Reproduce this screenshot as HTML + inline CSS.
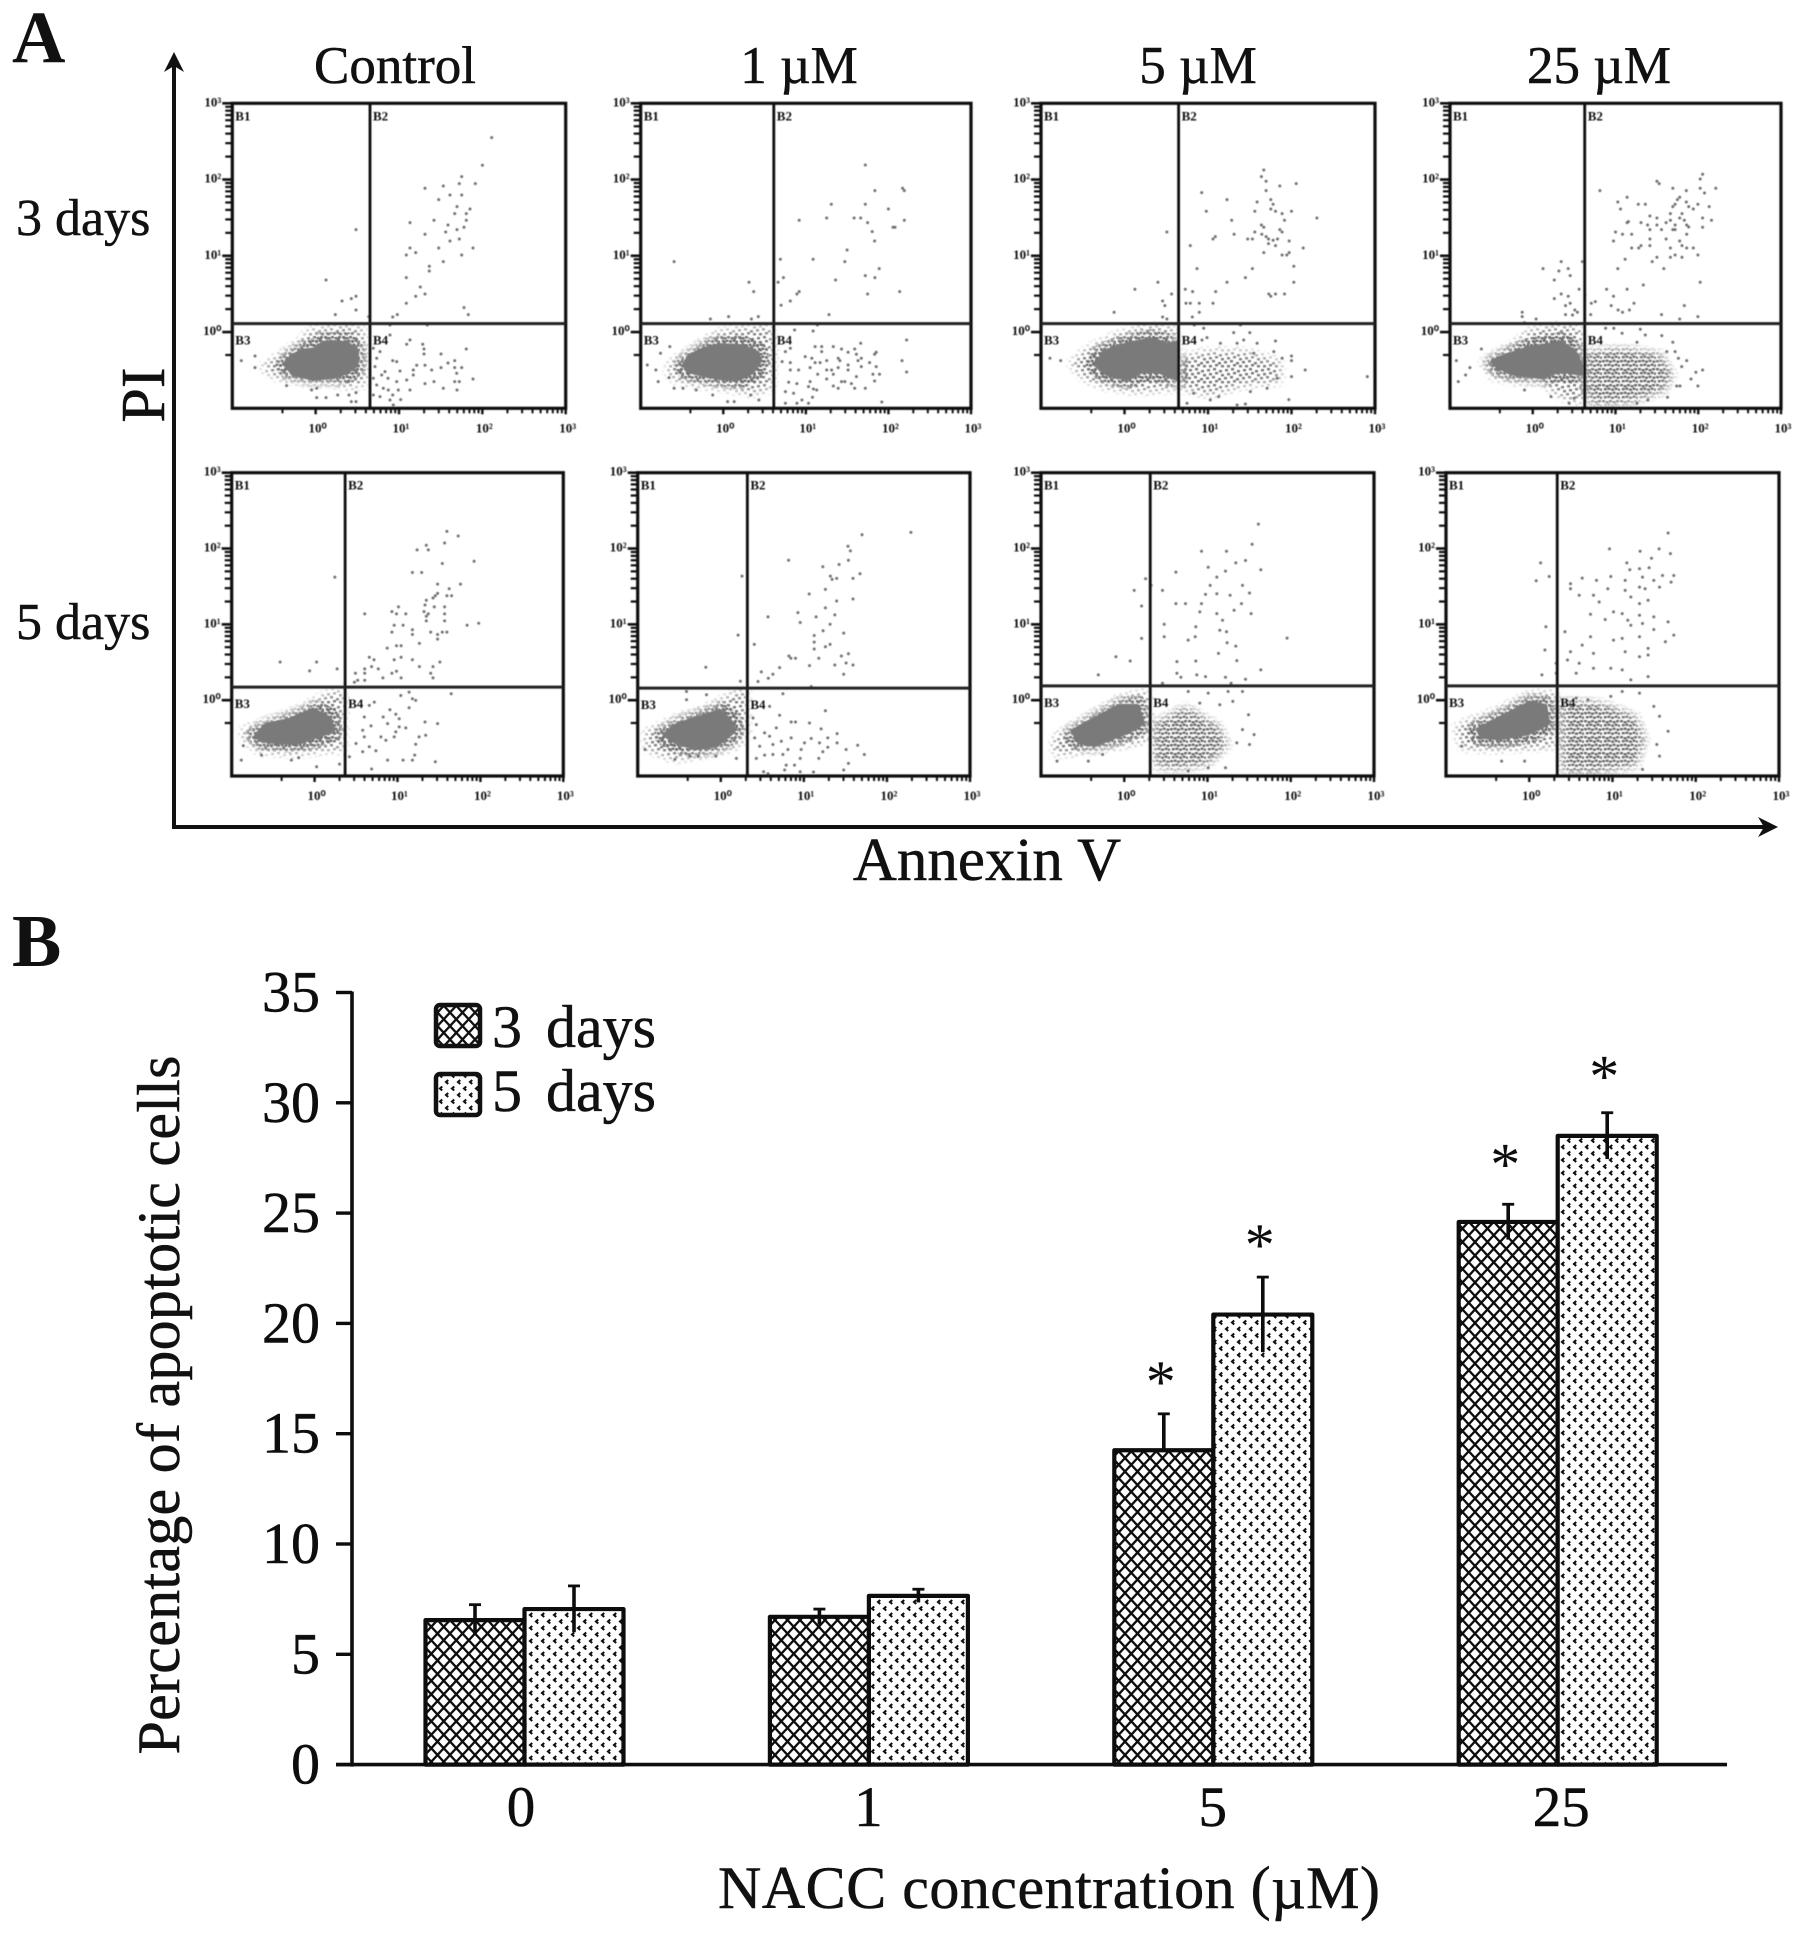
<!DOCTYPE html>
<html lang="en">
<head>
<meta charset="utf-8">
<title>NACC apoptosis figure</title>
<style>
html,body{margin:0;padding:0;background:#fff;}
svg{display:block;}
text{font-family:"Liberation Serif",serif;fill:#111;}
.heavy{stroke:#111;stroke-width:0.5px;}
</style>
</head>
<body>
<svg id="figure" xmlns="http://www.w3.org/2000/svg" width="1795" height="1935" viewBox="0 0 1795 1935">
  <defs id="defs">
    <filter id="soft" x="-5%" y="-5%" width="110%" height="110%"><feGaussianBlur stdDeviation="0.6"/></filter>
    <filter id="softer" x="-5%" y="-5%" width="110%" height="110%"><feGaussianBlur stdDeviation="0.35"/></filter>
    <filter id="feather" x="-30%" y="-30%" width="160%" height="160%"><feGaussianBlur stdDeviation="5"/></filter>
    <pattern id="speckle" width="18" height="16" patternUnits="userSpaceOnUse">
      <path fill="#747474" d="M1 1h3v2.4h-3zM7 0h3v2.4h-3zM13 2h3v2.4h-3zM3 5h3v2.4h-3zM9 4h3v2.4h-3zM15 6h3v2.4h-3zM0 9h3v2.4h-3zM6 8h3v2.4h-3zM12 10h3v2.4h-3zM3 13h3v2.4h-3zM9 12h3v2.4h-3zM15 13h3v2.4h-3z"/>
    </pattern>
    <pattern id="speckle-dense" width="18" height="16" patternUnits="userSpaceOnUse">
      <path fill="#6a6a6a" d="M0 0h3v2.4h-3zM3.6 1h3v2.4h-3zM7 0h3v2.4h-3zM10.6 1h3v2.4h-3zM14 0h3v2.4h-3zM1.8 4h3v2.4h-3zM5.4 3.6h3v2.4h-3zM9 4.5h3v2.4h-3zM12.6 3.6h3v2.4h-3zM16 4.5h2v2.4h-2zM0 8h3v2.4h-3zM3.6 7.6h3v2.4h-3zM7 8.5h3v2.4h-3zM10.6 7.6h3v2.4h-3zM14.4 8.5h3v2.4h-3zM1.8 12h3v2.4h-3zM5.4 11.6h3v2.4h-3zM9 12.5h3v2.4h-3zM12.6 11.6h3v2.4h-3zM16 12.5h2v2.4h-2z"/>
    </pattern>
    <pattern id="hatch-3d" width="12.5" height="13.5" patternUnits="userSpaceOnUse">
      <rect width="12.5" height="13.5" fill="#fff"/>
      <path d="M0 0L12.5 13.5M12.5 0L0 13.5" stroke="#111" stroke-width="2.3" fill="none"/>
    </pattern>
    <pattern id="dots-5d" width="12" height="13" patternUnits="userSpaceOnUse">
      <rect width="12" height="13" fill="#fff"/>
      <path d="M4.2 1L2 3L4.2 5" stroke="#111" stroke-width="2.1" fill="none"/>
      <path d="M10.2 7.5L8 9.5L10.2 11.5" stroke="#111" stroke-width="2.1" fill="none"/>
    </pattern>
  </defs>

  <text x="12" y="62" font-size="74" font-weight="bold">A</text>
  <text x="12" y="966" font-size="74" font-weight="bold">B</text>

  <text class="heavy" x="395" y="83" font-size="53" text-anchor="middle">Control</text>
  <text class="heavy" x="799" y="83" font-size="53" text-anchor="middle">1 µM</text>
  <text class="heavy" x="1198" y="83" font-size="53" text-anchor="middle">5 µM</text>
  <text class="heavy" x="1599" y="83" font-size="53" text-anchor="middle">25 µM</text>
  <text class="heavy" x="16" y="235" font-size="52">3 days</text>
  <text class="heavy" x="16" y="639" font-size="52">5 days</text>

  <g>
    <line x1="174" y1="62" x2="174" y2="829" stroke="#111" stroke-width="4"/>
    <polygon points="174,52 184,72 174,66 164,72" fill="#111"/>
  </g>
  <g>
    <line x1="172" y1="827" x2="1768" y2="827" stroke="#111" stroke-width="4"/>
    <polygon points="1778,827 1758,837 1764,827 1758,817" fill="#111"/>
  </g>
  <text class="heavy" transform="translate(164 395) rotate(-90)" font-size="62" text-anchor="middle">PI</text>
  <text class="heavy" x="987" y="880" font-size="61" text-anchor="middle">Annexin V</text>

  <g id="flow-panels" filter="url(#soft)"></g>
  <g id="bar-chart" filter="url(#softer)"></g>

  <text class="heavy" transform="translate(179 1405) rotate(-90)" font-size="60" text-anchor="middle" textLength="699">Percentage of apoptotic cells</text>
  <text class="heavy" x="1049" y="1908" font-size="60" text-anchor="middle" textLength="662">NACC concentration (µM)</text>

  <g>
    <rect x="436" y="1005" width="44" height="41" rx="4" fill="url(#hatch-3d)" stroke="#111" stroke-width="4.5"/>
    <text class="heavy" x="492" y="1047" font-size="60" style="word-spacing:9px">3 days</text>
    <rect x="436" y="1074" width="44" height="41" rx="4" fill="url(#dots-5d)" stroke="#111" stroke-width="4.5"/>
    <text class="heavy" x="492" y="1111" font-size="60" style="word-spacing:9px">5 days</text>
  </g>
</svg>

<script>
/* ---------- bar chart data (panel B) ---------- */
const concentrations = ['0', '1', '5', '25'];
const yTickValues = [0, 5, 10, 15, 20, 25, 30, 35];
const apoptosis3d = [6.55, 6.7, 14.25, 24.6];
const apoptosis5d = [7.05, 7.65, 20.4, 28.5];
const errUp3d = [0.7, 0.35, 1.65, 0.8];
const errDown3d = [0.7, 0.35, 0, 0.8];
const errUp5d = [1.05, 0.3, 1.7, 1.05];
const errDown5d = [1.05, 0.3, 1.7, 1.05];
const significant3d = [false, false, true, true];
const significant5d = [false, false, true, true];

/* ---------- flow cytometry data (panel A) : channels, x 0-1000, y 0-915 ---------- */
const decadeLabels = ['10⁰', '10¹', '10²', '10³'];
const decadeValues = [0, 1, 2, 3];
const minorMultipliers = [2, 3, 4, 5, 6, 7, 8, 9];
const quadrantNames = ['B1', 'B2', 'B3', 'B4'];
const gateAnnexin = [413, 403, 412, 407, 342, 330, 328, 334];
const gatePI = [254, 254, 254, 254, 268, 265, 272, 272];

const coreD3C0 = [[161,130],[178,155],[213,172],[248,175],[273,195],[343,195],[373,170],[371,130],[343,110],[303,95],[243,90],[183,105]];
const coreD3C1 = [[133,130],[148,155],[188,175],[238,188],[308,185],[353,165],[358,140],[338,110],[298,90],[238,92],[178,105],[143,115]];
const coreD3C5 = [[167,130],[187,165],[237,185],[277,195],[327,205],[377,190],[407,195],[407,90],[357,110],[307,115],[257,90],[197,105]];
const coreD3C25 = [[130,140],[165,155],[225,175],[275,185],[335,195],[375,170],[395,130],[395,105],[335,115],[275,95],[195,105],[145,125]];
const coreD5C0 = [[75,123],[105,153],[175,168],[245,198],[295,173],[305,138],[275,128],[205,103],[145,103],[95,108]];
const coreD5C1 = [[82,125],[122,155],[187,175],[247,195],[282,160],[287,135],[237,95],[177,85],[112,105]];
const coreD5C5 = [[96,135],[160,170],[237,210],[288,210],[305,160],[262,135],[160,95],[117,105]];
const coreD5C25 = [[98,140],[176,180],[253,220],[297,210],[305,160],[245,130],[159,115],[107,120]];

const haloD3C0 = [[88,125],[143,160],[203,200],[233,235],[333,245],[393,240],[403,140],[398,70],[343,65],[303,75],[233,75],[143,90],[98,110]];
const haloD3C1 = [[93,140],[158,180],[228,225],[308,240],[398,245],[403,170],[398,60],[338,45],[258,60],[168,70],[103,85],[78,115]];
const haloD3C5 = [[87,135],[142,180],[237,225],[327,245],[402,240],[407,60],[287,50],[187,65],[127,90]];
const haloD3C25 = [[95,140],[195,195],[245,235],[335,248],[400,240],[400,15],[335,35],[275,80],[195,80],[125,95]];
const haloD5C0 = [[30,138],[95,163],[205,203],[290,248],[340,258],[340,78],[285,78],[205,68],[85,73],[35,113]];
const haloD5C1 = [[22,130],[117,175],[217,210],[292,250],[329,265],[329,115],[287,85],[217,65],[112,50],[27,80]];
const haloD5C5 = [[39,115],[91,150],[237,235],[326,255],[326,110],[262,95],[142,75],[39,65]];
const haloD5C25 = [[29,150],[159,200],[245,245],[331,250],[331,90],[245,85],[141,80],[47,85]];

const earlyD3C5 = [[417,150],[497,170],[607,170],[717,140],[717,80],[607,70],[507,40],[417,60]];
const earlyD3C25 = [[410,170],[515,180],[635,165],[675,100],[645,50],[535,15],[425,10],[410,60]];
const earlyD5C5 = [[340,160],[435,210],[537,150],[562,90],[502,35],[400,20],[340,30]];
const earlyD5C25 = [[345,230],[469,220],[572,180],[598,110],[572,30],[452,10],[348,10]];

const eventsD3C0 = [[778,812],[750,729],[688,695],[729,674],[681,674],[633,667],[578,660],[653,640],[688,640],[619,626],[674,605],[713,598],[702,584],[667,584],[605,564],[702,564],[533,557],[647,550],[695,543],[674,536],[640,529],[578,522],[681,508],[653,502],[533,481],[619,481],[722,481],[550,467],[522,460],[688,460],[633,440],[591,426],[591,412],[522,392],[564,364],[578,343],[550,336],[522,315],[695,302],[708,281],[495,281],[481,274],[371,536],[281,385],[371,336],[357,329],[329,322],[371,295],[309,281],[409,275],[473,250],[585,250],[473,220],[533,205],[523,192],[571,192],[575,178],[702,178],[575,163],[626,163],[481,143],[493,140],[667,143],[647,136],[553,129],[543,115],[503,112],[578,129],[598,115],[626,122],[667,122],[688,122],[673,105],[543,100],[722,88],[605,80],[578,74],[523,85],[493,80],[467,90],[667,80],[681,80],[633,60],[533,55],[498,55],[674,55],[468,55],[453,60],[433,70],[423,90],[428,125],[433,150],[443,170],[423,180],[443,35],[481,40],[505,26],[423,40],[473,25],[483,10],[458,110],[448,100],[27,143],[68,157],[68,122],[253,32],[281,32],[316,40],[350,40],[357,20],[371,20],[371,47],[253,60],[238,55],[163,68],[348,80]];

const eventsD3C1 = [[680,730],[793,660],[798,653],[709,653],[577,612],[680,612],[750,598],[563,571],[646,571],[666,571],[480,564],[798,564],[687,557],[764,543],[770,543],[701,530],[708,502],[625,475],[522,447],[423,447],[618,440],[722,419],[680,398],[709,392],[590,385],[432,392],[416,378],[480,350],[473,343],[687,343],[784,350],[453,322],[425,309],[570,281],[101,440],[328,378],[342,350],[211,268],[266,275],[335,268],[356,275],[535,250],[466,235],[522,232],[805,205],[666,195],[528,185],[548,185],[583,185],[548,170],[608,178],[628,168],[648,178],[653,162],[713,168],[708,162],[498,155],[518,150],[598,150],[603,143],[658,143],[668,150],[693,137],[791,143],[563,143],[528,137],[543,137],[453,137],[513,122],[628,130],[628,115],[668,125],[713,125],[723,102],[703,102],[805,109],[453,115],[478,115],[536,102],[563,115],[578,115],[598,122],[563,88],[583,102],[653,95],[448,78],[473,74],[513,80],[608,80],[618,80],[638,74],[708,82],[583,67],[598,60],[648,60],[680,60],[508,65],[523,58],[533,55],[438,50],[463,45],[520,33],[473,15],[488,25],[730,19],[438,15],[508,15],[438,170],[453,180],[428,140],[20,130],[53,80],[88,185],[60,165],[46,115],[86,92],[101,60],[128,60],[168,55],[218,40],[263,20],[283,20],[333,40],[358,25]];

const eventsD3C5 = [[667,715],[660,695],[674,681],[764,674],[715,667],[674,653],[481,647],[557,626],[688,626],[647,619],[695,612],[688,598],[640,591],[702,591],[750,591],[722,584],[495,591],[826,571],[571,564],[729,564],[660,550],[667,543],[715,536],[722,529],[640,529],[661,522],[377,529],[578,522],[522,515],[515,508],[619,508],[633,508],[674,515],[681,508],[695,504],[708,508],[743,502],[681,494],[702,488],[785,481],[447,488],[667,467],[743,467],[736,460],[722,460],[757,426],[467,419],[633,419],[612,392],[557,378],[757,378],[350,378],[281,357],[432,357],[454,350],[523,350],[391,343],[682,343],[688,336],[702,343],[729,343],[364,322],[371,308],[434,315],[447,315],[474,315],[515,315],[474,288],[453,274],[219,288],[364,274],[377,268],[597,250],[487,240],[459,250],[577,227],[625,227],[497,212],[607,205],[647,195],[537,195],[587,195],[702,202],[482,205],[637,165],[697,170],[722,150],[750,157],[750,143],[791,115],[750,95],[977,95],[742,26],[587,10],[612,13],[437,15],[532,35],[507,25],[457,45],[627,50],[677,60],[707,90],[27,150],[59,143]];

const eventsD3C25 = [[763,702],[756,688],[625,681],[632,674],[803,660],[756,660],[673,660],[714,653],[769,646],[453,653],[535,633],[694,633],[507,619],[687,626],[569,612],[590,612],[714,619],[749,612],[680,612],[673,605],[783,605],[721,605],[515,598],[735,598],[666,584],[701,584],[763,571],[604,577],[625,571],[694,571],[708,564],[790,564],[666,564],[539,560],[535,557],[577,557],[597,550],[625,550],[653,557],[680,550],[715,550],[763,543],[604,536],[639,536],[673,536],[680,536],[721,544],[715,522],[500,529],[521,522],[549,522],[494,502],[653,508],[604,508],[694,502],[604,488],[577,488],[570,481],[549,481],[666,481],[701,488],[715,481],[735,481],[749,460],[701,453],[680,460],[666,453],[529,447],[625,453],[611,440],[507,419],[646,419],[756,378],[584,370],[535,357],[473,357],[494,336],[708,308],[556,315],[487,308],[542,295],[508,295],[521,288],[639,281],[694,268],[749,275],[439,320],[427,315],[425,281],[408,340],[400,440],[390,357],[336,440],[281,419],[329,412],[357,419],[363,398],[315,385],[336,343],[315,329],[357,336],[363,315],[349,308],[377,295],[385,288],[349,281],[218,288],[218,275],[260,268],[225,257],[370,280],[495,240],[520,225],[575,237],[590,220],[470,240],[565,198],[640,218],[673,198],[655,170],[680,170],[690,150],[715,143],[700,125],[743,108],[763,115],[728,88],[695,67],[685,67],[749,67],[657,33],[598,25],[565,15],[19,143],[95,178],[25,80],[60,122],[47,100],[225,55],[305,35],[360,15],[375,30]];

const eventsD5C0 = [[649,738],[683,724],[587,696],[642,703],[559,682],[593,682],[635,641],[731,648],[545,614],[573,614],[311,600],[621,579],[690,579],[656,565],[621,551],[614,544],[607,537],[649,544],[663,544],[587,530],[503,510],[583,516],[611,510],[642,510],[483,496],[497,489],[525,489],[401,489],[580,496],[593,489],[642,489],[587,482],[587,468],[642,468],[490,455],[517,455],[710,455],[745,461],[483,434],[545,441],[545,427],[600,434],[621,427],[635,434],[649,434],[621,413],[497,393],[511,393],[566,400],[469,386],[415,358],[429,351],[490,351],[511,358],[545,351],[628,344],[422,330],[442,323],[566,330],[607,330],[401,323],[373,310],[401,310],[483,310],[497,316],[600,310],[456,296],[511,296],[607,296],[401,289],[380,289],[370,283],[146,344],[256,344],[235,317],[318,323],[662,248],[535,253],[510,243],[545,233],[555,228],[535,206],[477,200],[415,213],[430,223],[495,186],[457,178],[505,173],[400,178],[470,158],[583,163],[621,158],[525,145],[505,148],[420,151],[395,138],[585,123],[565,118],[450,118],[490,118],[400,118],[555,96],[465,108],[435,76],[415,88],[375,98],[470,48],[517,48],[552,63],[614,43],[422,21],[355,58],[395,73],[545,48],[495,133],[29,48],[90,63],[180,48],[202,55],[256,28],[325,36],[35,91]];

const eventsD5C1 = [[822,735],[675,728],[633,693],[640,679],[454,651],[606,638],[634,651],[557,631],[669,610],[580,603],[585,593],[599,596],[648,596],[565,563],[516,549],[648,534],[599,528],[565,507],[482,493],[593,486],[537,480],[392,480],[489,463],[579,458],[558,438],[620,431],[531,424],[351,397],[531,404],[579,397],[565,390],[531,383],[455,362],[461,355],[475,355],[545,355],[613,362],[634,369],[627,341],[648,335],[593,335],[517,333],[427,327],[372,314],[407,307],[620,307],[393,295],[362,285],[309,286],[205,328],[302,425],[314,603],[522,270],[437,248],[397,210],[565,197],[427,183],[462,163],[475,163],[517,160],[552,142],[417,145],[600,128],[382,130],[397,120],[522,113],[572,115],[462,115],[432,105],[502,100],[547,100],[600,100],[662,93],[572,87],[627,80],[492,80],[407,95],[367,90],[452,80],[557,73],[682,65],[407,65],[382,63],[437,65],[489,53],[545,53],[357,53],[634,38],[447,33],[472,33],[620,18],[442,18],[379,13],[489,13],[529,12],[392,7],[357,155],[347,175],[352,115],[22,80],[147,255],[207,245],[147,230],[112,50],[157,60],[182,60],[235,60],[297,53]];

const eventsD5C5 = [[653,760],[634,699],[557,678],[482,678],[614,650],[585,643],[502,630],[660,622],[554,618],[405,615],[528,600],[605,575],[508,575],[314,595],[331,575],[280,560],[365,560],[494,548],[528,550],[568,545],[626,552],[405,520],[434,520],[302,513],[482,520],[602,520],[477,495],[528,490],[631,490],[580,500],[545,470],[465,450],[370,458],[537,440],[557,435],[739,416],[463,420],[302,415],[370,420],[442,410],[559,402],[585,392],[533,370],[225,360],[268,347],[408,345],[465,347],[588,348],[660,320],[172,305],[408,310],[468,305],[420,298],[494,300],[554,298],[614,292],[365,280],[571,280],[442,255],[502,250],[562,255],[605,255],[477,220],[537,215],[576,225],[623,185],[605,140],[640,125],[588,100],[626,95],[554,25],[442,15],[502,25],[48,45],[142,45],[185,65]];

const eventsD5C25 = [[667,733],[491,685],[583,678],[640,685],[674,671],[617,657],[284,643],[543,643],[610,628],[552,622],[581,625],[310,602],[409,597],[495,602],[684,605],[590,600],[650,605],[271,589],[374,580],[452,590],[538,590],[624,590],[676,585],[581,570],[641,570],[374,565],[486,565],[538,560],[598,565],[400,545],[443,545],[555,540],[607,530],[460,525],[581,520],[503,495],[529,490],[581,485],[624,480],[434,488],[478,472],[546,470],[590,460],[667,465],[555,455],[624,442],[684,425],[300,450],[357,435],[434,420],[503,410],[529,415],[581,420],[659,405],[297,380],[409,395],[538,375],[607,385],[443,370],[374,375],[581,360],[607,365],[331,340],[365,350],[400,340],[495,325],[529,320],[391,310],[443,325],[288,305],[331,310],[607,300],[555,290],[391,235],[426,230],[495,240],[529,255],[581,250],[624,210],[641,180],[667,135],[633,95],[641,60],[590,20],[167,45],[236,45],[47,90]];

/* ---------- layout (not data) ---------- */
const NS = 'http://www.w3.org/2000/svg';
const MAX_X = 1000, MAX_Y = 915;
const panelFrames = [
  {l:232.3,r:565.7,t:103.3,b:408.3},{l:640.7,r:971,t:103.3,b:408.3},{l:1041,r:1375,t:103.3,b:408.3},{l:1450,r:1781,t:103.3,b:408.3},
  {l:231.7,r:563.3,t:472.7,b:776},{l:637.7,r:970,t:472.7,b:776},{l:1041,r:1374,t:472.7,b:776},{l:1446,r:1779,t:472.7,b:776}
];
const panelNames = ['3d-control','3d-1um','3d-5um','3d-25um','5d-control','5d-1um','5d-5um','5d-25um'];
const panelCores = [coreD3C0,coreD3C1,coreD3C5,coreD3C25,coreD5C0,coreD5C1,coreD5C5,coreD5C25];
const panelHalos = [haloD3C0,haloD3C1,haloD3C5,haloD3C25,haloD5C0,haloD5C1,haloD5C5,haloD5C25];
const panelEarly = [null,null,earlyD3C5,earlyD3C25,null,null,earlyD5C5,earlyD5C25];
const panelEarlyFill = ['','','url(#speckle)','url(#speckle-dense)','','','url(#speckle-dense)','url(#speckle-dense)'];
const panelEvents = [eventsD3C0,eventsD3C1,eventsD3C5,eventsD3C25,eventsD5C0,eventsD5C1,eventsD5C5,eventsD5C25];

function make(tag, parent, attrs, txt) {
  const el = document.createElementNS(NS, tag);
  for (const k in attrs) el.setAttribute(k, attrs[k]);
  if (txt !== undefined) el.textContent = txt;
  parent.appendChild(el);
  return el;
}

/* ---------- draw flow panels ---------- */
const flowRoot = document.getElementById('flow-panels');
const defsRoot = document.getElementById('defs');
panelFrames.forEach(function (f, i) {
  const sx = function (c) { return f.l + c / MAX_X * (f.r - f.l); };
  const sy = function (c) { return f.b - c / MAX_Y * (f.b - f.t); };
  const decadeX = function (d) { return sx((d + 1) / 4 * MAX_X); };
  const decadeY = function (d) { return sy((d + 1) / 4 * MAX_Y); };
  const pts = function (arr) { return arr.map(function (p) { return sx(p[0]).toFixed(1) + ',' + sy(p[1]).toFixed(1); }).join(' '); };

  const mask = make('mask', defsRoot, {id: 'fade-' + i, maskUnits: 'userSpaceOnUse', x: f.l, y: f.t, width: f.r - f.l, height: f.b - f.t});
  make('polygon', mask, {points: pts(panelHalos[i]), fill: '#fff', filter: 'url(#feather)'});
  if (panelEarly[i]) make('polygon', mask, {points: pts(panelEarly[i]), fill: '#fff', filter: 'url(#feather)'});

  const g = make('g', flowRoot, {});
  
  

  const cloud = make('g', g, {mask: 'url(#fade-' + i + ')'});
  
  

  const halo = make('polygon', cloud, {points: pts(panelHalos[i]), fill: 'url(#speckle)', stroke: 'url(#speckle)', 'stroke-width': 12});
  
  

  if (panelEarly[i]) {
    const early = make('polygon', cloud, {points: pts(panelEarly[i]), fill: panelEarlyFill[i], stroke: panelEarlyFill[i], 'stroke-width': 12});
    
    
  }

  const ring = make('polygon', cloud, {points: pts(panelCores[i]), fill: 'none', stroke: 'url(#speckle-dense)', 'stroke-width': 22, 'stroke-linejoin': 'round'});
  
  

  const core = make('polygon', g, {points: pts(panelCores[i]), fill: '#7a7a7a', stroke: '#7a7a7a', 'stroke-width': 5, 'stroke-linejoin': 'round'});
  
  

  panelEvents[i].forEach(function (p) {
    const dot = make('circle', g, {cx: sx(p[0]).toFixed(1), cy: sy(p[1]).toFixed(1), r: 1.5, fill: '#707070'});
    
    
  });

  const box = make('rect', g, {x: f.l, y: f.t, width: f.r - f.l, height: f.b - f.t, fill: 'none', stroke: '#111', 'stroke-width': 3.2});
  
  

  const gv = make('line', g, {x1: sx(gateAnnexin[i]), x2: sx(gateAnnexin[i]), y1: f.t, y2: f.b, stroke: '#111', 'stroke-width': 2.8});
  
  

  const gh = make('line', g, {x1: f.l, x2: f.r, y1: sy(gatePI[i]), y2: sy(gatePI[i]), stroke: '#222', 'stroke-width': 3});
  
  

  decadeValues.forEach(function (d, di) {
    const ty = make('line', g, {x1: f.l - 10, x2: f.l, y1: decadeY(d), y2: decadeY(d), stroke: '#111', 'stroke-width': 2.6});
    
    
    const ly = make('text', g, {x: f.l - 11, y: decadeY(d) + 3, 'font-size': 13, 'font-weight': 'bold', 'text-anchor': 'end'}, decadeLabels[di]);
    
    
    const tx = make('line', g, {x1: decadeX(d), x2: decadeX(d), y1: f.b, y2: f.b + 6, stroke: '#111', 'stroke-width': 2.4});
    
    
    const lx = make('text', g, {x: decadeX(d) + 2, y: f.b + 24, 'font-size': 13, 'font-weight': 'bold', 'text-anchor': 'middle'}, decadeLabels[di]);
    
    
  });

  [-1, 0, 1, 2].forEach(function (d) {
    minorMultipliers.forEach(function (m) {
      const v = d + Math.log10(m);
      if (d >= 0 || m === 5) {
        const my = make('line', g, {x1: f.l - 7, x2: f.l, y1: decadeY(v), y2: decadeY(v), stroke: '#111', 'stroke-width': 2.2});
        
        
      }
      if (d >= 0 || m === 4) {
        const mx = make('line', g, {x1: decadeX(v), x2: decadeX(v), y1: f.b, y2: f.b + 5, stroke: '#111', 'stroke-width': 2});
        
        
      }
    });
  });

  const gateXpx = sx(gateAnnexin[i]), gateYpx = sy(gatePI[i]);
  const qx = [f.l + 3, gateXpx + 3, f.l + 3, gateXpx + 3];
  const qy = [f.t + 17, f.t + 17, gateYpx + 21, gateYpx + 21];
  quadrantNames.forEach(function (q, qi) {
    const t = make('text', g, {x: qx[qi], y: qy[qi], 'font-size': 13, 'font-weight': 'bold', fill: '#333'}, q);
    
    
  });
});

/* ---------- draw bar chart ---------- */
const barRoot = document.getElementById('bar-chart');
const plotLeft = 352, plotRight = 1727, plotBottom = 1764.6, plotTop = 992.5, yMaxValue = 35;
const firstGroup = 525, groupStep = 344.4, barWidth = 99;
const labelNudge = [-4, -1, -1, 3];
const starGap3d = [0, 0, 40, 48];
const starGap5d = [0, 0, 40, 44];
const yScale = function (v) { return plotBottom - v / yMaxValue * (plotBottom - plotTop); };
const xScale = function (i) { return firstGroup + i * groupStep; };

function drawSeries(values, up, down, stars, gaps, offset, fill, label) {
  values.forEach(function (v, i) {
    const bx = xScale(i) + offset;
    const bar = make('rect', barRoot, {x: bx - barWidth / 2, y: yScale(v), width: barWidth, height: plotBottom - yScale(v), fill: fill, stroke: '#111', 'stroke-width': 4.2, 'stroke-linejoin': 'round'});
    
    
  });
  values.forEach(function (v, i) {
    const bx = xScale(i) + offset;
    const hi = yScale(v + up[i]), lo = yScale(v - down[i]);
    const stem = make('line', barRoot, {x1: bx, x2: bx, y1: hi, y2: lo, stroke: '#111', 'stroke-width': 3.6});
    
    
    const cap = make('line', barRoot, {x1: bx - 6, x2: bx + 6, y1: hi, y2: hi, stroke: '#111', 'stroke-width': 2.8});
    
    
    if (stars[i]) {
      const s = make('text', barRoot, {x: bx - 3, y: hi - gaps[i] + 28, 'font-size': 60, 'text-anchor': 'middle'}, '*');
      
      
    }
  });
}
drawSeries(apoptosis3d, errUp3d, errDown3d, significant3d, starGap3d, -50, 'url(#hatch-3d)', '3-days');
drawSeries(apoptosis5d, errUp5d, errDown5d, significant5d, starGap5d, 49, 'url(#dots-5d)', '5-days');

const yAxisLine = make('line', barRoot, {x1: plotLeft, x2: plotLeft, y1: plotTop - 1, y2: plotBottom + 2, stroke: '#111', 'stroke-width': 3.6});


const xAxisLine = make('line', barRoot, {x1: 336, x2: plotRight, y1: plotBottom, y2: plotBottom, stroke: '#111', 'stroke-width': 3.6});



yTickValues.forEach(function (v) {
  const t = make('line', barRoot, {x1: 336, x2: plotLeft, y1: yScale(v), y2: yScale(v), stroke: '#111', 'stroke-width': 3.4});
  
  
  const l = make('text', barRoot, {class: 'heavy', x: 320, y: yScale(v) + 19, 'font-size': 58, 'text-anchor': 'end'}, String(v));
  
  
});
concentrations.forEach(function (c, i) {
  const l = make('text', barRoot, {class: 'heavy', x: xScale(i) + labelNudge[i], y: 1826, 'font-size': 57, 'text-anchor': 'middle'}, c);
  
  
});
</script>
</body>
</html>
